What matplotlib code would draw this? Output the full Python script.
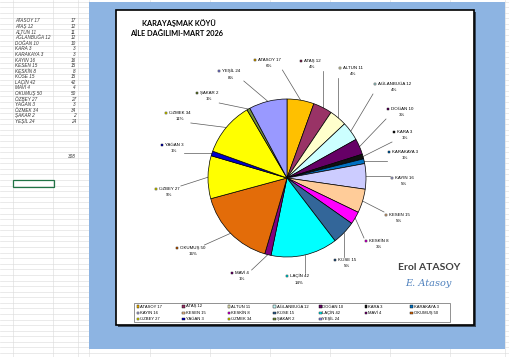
import numpy as np
import matplotlib.pyplot as plt
from matplotlib.patches import Rectangle

names = ["ATASOY", "ATAŞ", "ALTUN", "AĞLANBUĞA", "DOĞAN", "KARA", "KARAKAYA",
         "KAYIN", "KESEN", "KESKİN", "KÖSE", "LAÇİN", "MAVİ", "OKUMUŞ",
         "ÖZBEY", "YAĞAN", "ÖZMEK", "ŞAKAR", "YEŞİL"]
values = [17, 12, 11, 12, 10, 3, 3, 16, 15, 8, 15, 42, 4, 50, 27, 3, 34, 2, 24]
colors = ["#FFC000", "#993366", "#FFFFCC", "#CCFFFF", "#660066", "#111111", "#0070C0",
          "#CCCCFF", "#FFCC99", "#FF00FF", "#336699", "#00FFFF", "#800080", "#E36C09",
          "#FFFF00", "#0000CC", "#FFFF00", "#77933C", "#9999FF"]
title1 = "KARAYAŞMAK KÖYÜ"
title2 = "AİLE DAĞILIMI-MART 2026"

# label key positions (pixels)
label_pos = [(255, 60), (301, 61), (340, 68), (375, 84), (388, 109), (394, 132),
             (389, 152), (392, 178), (386, 215), (366, 241), (335, 260), (287, 276),
             (232, 273), (177, 248), (156, 189), (162, 145), (166, 113), (197, 93),
             (219, 71)]

W, H = 510, 357
cx, cy, r = 287, 178, 79
fam = ["Liberation Sans", "DejaVu Sans"]

fig = plt.figure(figsize=(5.1, 3.57), dpi=100)
bg = fig.add_axes([0, 0, 1, 1])
bg.set_xlim(0, W)
bg.set_ylim(H, 0)
bg.axis("off")

# spreadsheet grid
for y in np.arange(1.5, H, 5.58):
    bg.plot([0, W], [y, y], color="#DADADA", lw=0.4, zorder=0.5)
for x in [13, 53, 78, 89, 150, 210, 270, 330, 390, 450, 505]:
    bg.plot([x, x], [0, H], color="#DADADA", lw=0.4, zorder=0.5)

# table
labels_txt = [f"{n} {v}" for n, v in zip(names, values)]
for i, (t, v) in enumerate(zip(labels_txt, values)):
    y = 21 + i * 5.58
    bg.text(15, y, t, fontsize=3.3, style="italic", va="center", family=fam, color="#333333")
    bg.text(76, y, str(v), fontsize=3.3, style="italic", va="center", ha="right",
            family=fam, color="#333333")
bg.text(76, 157, str(sum(values)), fontsize=3.3, style="italic", va="center", ha="right",
        family=fam, color="#333333")
bg.add_patch(Rectangle((13, 180), 41, 7, fill=False, edgecolor="#217346", lw=0.9, zorder=1))

# blue background and chart box
bg.add_patch(Rectangle((89, 2), 416, 347, facecolor="#8DB4E2", edgecolor="none", zorder=1))
bg.add_patch(Rectangle((118, 12), 358, 315, facecolor="#3A4A5E", edgecolor="none", zorder=1))
bg.add_patch(Rectangle((116, 10), 358, 315, facecolor="white", edgecolor="black", lw=1.2,
                       zorder=1))

bg.text(142, 23, title1, fontsize=5.3, fontweight="bold", family=["Lato", "DejaVu Sans"],
        va="center")
bg.text(130, 34, title2, fontsize=5.3, fontweight="bold", family=["Lato", "DejaVu Sans"],
        va="center")

# labels with leader lines
total = sum(values)
cum = np.cumsum([0] + values)
for i, (n, v) in enumerate(zip(names, values)):
    mid = 90 - (cum[i] + v / 2) / total * 360
    px = cx + r * np.cos(np.radians(mid))
    py = cy - r * np.sin(np.radians(mid))
    kx, ky = label_pos[i]
    txt = f"{n} {v}"
    x0, x1 = kx - 2, kx + 4 + len(txt) * 2.6
    y0, y1 = ky - 3, ky + 10
    ax_ = min(max(px, x0), x1)
    ay_ = min(max(py, y0), y1)
    bg.plot([px, ax_], [py, ay_], color="#595959", lw=0.5, zorder=2)
    bg.add_patch(Rectangle((kx - 1.3, ky - 1.3), 2.6, 2.6, facecolor=colors[i],
                           edgecolor="black", lw=0.3, zorder=3))
    pct = f"{round(v / total * 100)}%"
    bg.text(kx + 3, ky - 2.2, txt + "\n" + pct, fontsize=3.2, va="top", ha="left",
            multialignment="center", linespacing=1.7, family=fam, zorder=3)

bg.text(398, 267, "Erol ATASOY", fontsize=7.5, fontweight="bold", color="#3F3F3F",
        family=["Lato", "DejaVu Sans"], va="center")
bg.text(405, 284, "E. Atasoy", fontsize=7, style="italic", color="#4F81BD",
        family="DejaVu Serif", va="center")

# legend
bg.add_patch(Rectangle((134, 303), 316, 19, facecolor="white", edgecolor="#808080", lw=0.6,
                       zorder=2))
for i, t in enumerate(labels_txt):
    x = 138 + (i % 7) * 45.6
    y = 306.5 + (i // 7) * 6.3
    bg.add_patch(Rectangle((x - 1.3, y - 1.3), 2.6, 2.6, facecolor=colors[i],
                           edgecolor="black", lw=0.3, zorder=3))
    bg.text(x + 2, y, t, fontsize=3.0, va="center", family=fam, zorder=3)

# pie
pie_ax = fig.add_axes([(cx - r) / W, (H - cy - r) / H, 2 * r / W, 2 * r / H])
pie_ax.pie(values, colors=colors, startangle=90, counterclock=False,
           wedgeprops=dict(edgecolor="black", linewidth=0.5))
pie_ax.set_xlim(-1, 1)
pie_ax.set_ylim(-1, 1)
pie_ax.set_aspect("auto")

fig.savefig("out.png", dpi=100)
